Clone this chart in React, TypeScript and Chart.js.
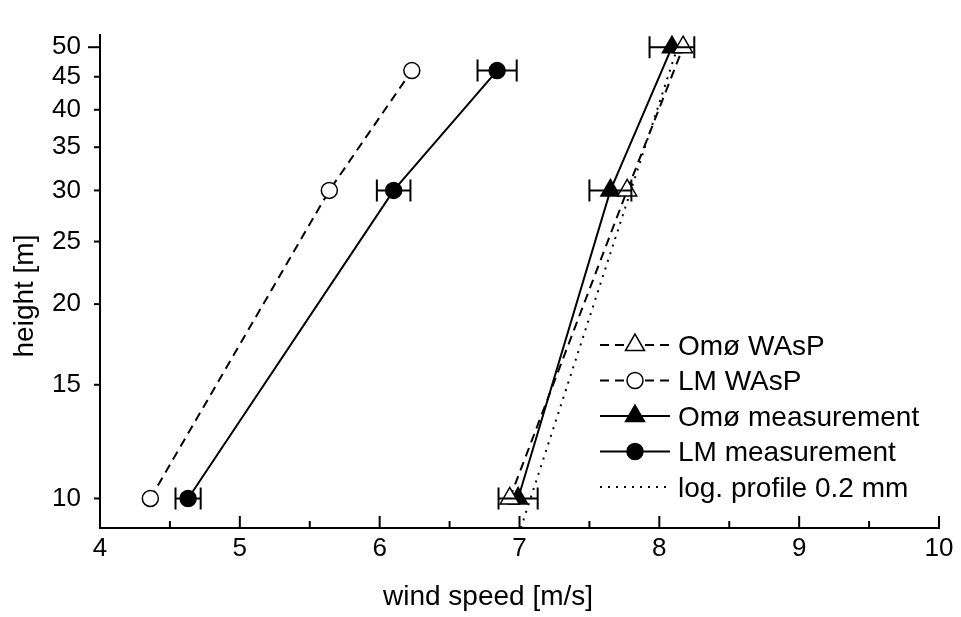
import React, { useEffect, useRef } from 'react';
import { Chart, registerables } from 'chart.js';

Chart.register(...registerables);

// heights [m] and wind speeds [m/s]
const omoHeights = [10, 30, 50];
const lmHeights = [10, 30, 46];
const omoWasp = [6.93, 7.77, 8.17];
const lmWasp = [4.36, 5.64, 6.23];
const omoMeas = [6.99, 7.65, 8.09];
const omoMeasErr = [0.14, 0.15, 0.16];
const lmMeas = [4.63, 6.1, 6.84];
const lmMeasErr = [0.09, 0.12, 0.14];
const logHeights = [9, 50];
const logProfile = [7.01, 8.13];

const xTicks = [4, 5, 6, 7, 8, 9, 10];
const yTicks = [10, 15, 20, 25, 30, 35, 40, 45, 50];
const seriesLabels = ['Omø WAsP', 'LM WAsP', 'Omø measurement', 'LM measurement', 'log. profile 0.2 mm'];

const FONT = '"Liberation Sans", Arial, sans-serif';

const toPoints = (xs: number[], ys: number[]) => xs.map((x, i) => ({ x, y: ys[i] }));

function drawMarker(ctx: CanvasRenderingContext2D, style: string, x: number, y: number, r: number, fill: string) {
  ctx.beginPath();
  if (style === 'triangle') {
    ctx.moveTo(x, y - r);
    ctx.lineTo(x + r * 0.866, y + r / 2);
    ctx.lineTo(x - r * 0.866, y + r / 2);
    ctx.closePath();
  } else {
    ctx.arc(x, y, r, 0, Math.PI * 2);
  }
  ctx.fillStyle = fill;
  ctx.fill();
  ctx.setLineDash([]);
  ctx.lineWidth = 1.5;
  ctx.strokeStyle = '#000';
  ctx.stroke();
}

const decorPlugin = {
  id: 'decor',
  afterDatasetsDraw(chart: any) {
    const { ctx, scales } = chart;
    const xs = scales.x;
    const ys = scales.y;
    // horizontal error bars on the measurements
    const bars = [
      { xs: omoMeas, ys: omoHeights, err: omoMeasErr },
      { xs: lmMeas, ys: lmHeights, err: lmMeasErr },
    ];
    ctx.save();
    ctx.strokeStyle = '#000';
    ctx.lineWidth = 2;
    ctx.setLineDash([]);
    bars.forEach((b) => {
      b.xs.forEach((v, i) => {
        const y = ys.getPixelForValue(b.ys[i]);
        const x0 = xs.getPixelForValue(v - b.err[i]);
        const x1 = xs.getPixelForValue(v + b.err[i]);
        ctx.beginPath();
        ctx.moveTo(x0, y);
        ctx.lineTo(x1, y);
        ctx.moveTo(x0, y - 11);
        ctx.lineTo(x0, y + 11);
        ctx.moveTo(x1, y - 11);
        ctx.lineTo(x1, y + 11);
        ctx.stroke();
      });
    });
    ctx.restore();
  },
  afterDraw(chart: any) {
    const { ctx, scales, chartArea } = chart;
    const xs = scales.x;
    const ys = scales.y;
    ctx.save();
    ctx.strokeStyle = '#000';
    ctx.lineWidth = 2;
    ctx.setLineDash([]);
    // x ticks point inward, with minor ticks between
    xTicks.forEach((v, i) => {
      const px = xs.getPixelForValue(v);
      ctx.beginPath();
      ctx.moveTo(px, chartArea.bottom);
      ctx.lineTo(px, chartArea.bottom - 12);
      ctx.stroke();
      if (i < xTicks.length - 1) {
        const mx = xs.getPixelForValue((v + xTicks[i + 1]) / 2);
        ctx.beginPath();
        ctx.moveTo(mx, chartArea.bottom);
        ctx.lineTo(mx, chartArea.bottom - 7);
        ctx.stroke();
      }
    });
    // y ticks point outward
    yTicks.forEach((v) => {
      const py = ys.getPixelForValue(v);
      const len = v === 50 ? 12 : 6;
      ctx.beginPath();
      ctx.moveTo(chartArea.left, py);
      ctx.lineTo(chartArea.left - len, py);
      ctx.stroke();
    });

    // axis titles
    ctx.fillStyle = '#000';
    ctx.font = `28px ${FONT}`;
    ctx.textAlign = 'center';
    ctx.textBaseline = 'alphabetic';
    ctx.fillText('wind speed [m/s]', 488, 605);
    ctx.save();
    ctx.translate(25, 296);
    ctx.rotate(-Math.PI / 2);
    ctx.textBaseline = 'middle';
    ctx.fillText('height [m]', 0, 0);
    ctx.restore();

    // legend: line sample with marker, then label
    chart.data.datasets.forEach((ds: any, i: number) => {
      const y = 345 + i * 35.5;
      ctx.beginPath();
      ctx.lineWidth = ds.borderWidth;
      ctx.setLineDash(ds.borderDash || []);
      ctx.moveTo(600, y);
      ctx.lineTo(670, y);
      ctx.stroke();
      if (ds.pointRadius > 0) {
        drawMarker(ctx, ds.pointStyle, 635, y, ds.pointRadius, ds.pointBackgroundColor);
      }
      ctx.fillStyle = '#000';
      ctx.font = `28px ${FONT}`;
      ctx.textAlign = 'left';
      ctx.textBaseline = 'middle';
      ctx.fillText(ds.label, 678, y + 2);
    });
    ctx.restore();
  },
};

const App = () => {
  const chartRef = useRef<HTMLCanvasElement>(null);
  const chartInstanceRef = useRef<Chart | null>(null);

  useEffect(() => {
    document.body.style.margin = '0';
    if (chartRef.current && !chartInstanceRef.current) {
      const context = chartRef.current.getContext('2d');
      if (context) {
        chartInstanceRef.current = new Chart(context, {
          type: 'line',
          data: {
            datasets: [
              {
                label: seriesLabels[0],
                data: toPoints(omoWasp, omoHeights),
                borderColor: '#000',
                borderWidth: 2,
                borderDash: [9, 6],
                pointStyle: 'triangle',
                pointRadius: 11,
                pointBackgroundColor: '#fff',
                pointBorderColor: '#000',
                pointBorderWidth: 1.5,
              },
              {
                label: seriesLabels[1],
                data: toPoints(lmWasp, lmHeights),
                borderColor: '#000',
                borderWidth: 2,
                borderDash: [9, 6],
                pointStyle: 'circle',
                pointRadius: 8,
                pointBackgroundColor: '#fff',
                pointBorderColor: '#000',
                pointBorderWidth: 1.5,
              },
              {
                label: seriesLabels[2],
                data: toPoints(omoMeas, omoHeights),
                borderColor: '#000',
                borderWidth: 2,
                pointStyle: 'triangle',
                pointRadius: 11,
                pointBackgroundColor: '#000',
                pointBorderColor: '#000',
                pointBorderWidth: 1.5,
              },
              {
                label: seriesLabels[3],
                data: toPoints(lmMeas, lmHeights),
                borderColor: '#000',
                borderWidth: 2,
                pointStyle: 'circle',
                pointRadius: 8,
                pointBackgroundColor: '#000',
                pointBorderColor: '#000',
                pointBorderWidth: 1.5,
              },
              {
                label: seriesLabels[4],
                data: toPoints(logProfile, logHeights),
                borderColor: '#000',
                borderWidth: 2,
                borderDash: [2, 6],
                pointRadius: 0,
              },
            ],
          } as any,
          options: {
            animation: false,
            responsive: false,
            layout: { padding: { left: 0, right: 22, top: 12, bottom: 0 } },
            plugins: {
              legend: { display: false },
              tooltip: { enabled: false },
            },
            scales: {
              x: {
                type: 'linear',
                min: 4,
                max: 10,
                afterBuildTicks: (axis: any) => {
                  axis.ticks = xTicks.map((v) => ({ value: v }));
                },
                afterFit: (axis: any) => {
                  axis.height = 89;
                },
                grid: { display: false, drawTicks: false },
                border: { display: true, color: '#000', width: 2 },
                ticks: {
                  color: '#000',
                  font: { family: FONT, size: 26 },
                  padding: 5,
                  maxRotation: 0,
                  autoSkip: false,
                },
              },
              y: {
                type: 'logarithmic',
                min: 9,
                max: 52.3,
                afterBuildTicks: (axis: any) => {
                  axis.ticks = yTicks.map((v) => ({ value: v }));
                },
                afterFit: (axis: any) => {
                  axis.width = 100;
                },
                grid: { display: false, drawTicks: false },
                border: { display: true, color: '#000', width: 2 },
                ticks: {
                  color: '#000',
                  font: { family: FONT, size: 26 },
                  padding: 19,
                  autoSkip: false,
                  callback: (v: any) => String(v),
                },
              },
            },
          } as any,
          plugins: [decorPlugin],
        });
      }
    }

    // Cleanup: destroy the chart instance when the component unmounts
    return () => {
      if (chartInstanceRef.current) {
        chartInstanceRef.current.destroy();
        chartInstanceRef.current = null;
      }
    };
  }, []);

  return (
    <div style={{ width: 961, height: 617, background: '#fff' }}>
      <canvas ref={chartRef} width={961} height={617} />
    </div>
  );
};

export default App;
